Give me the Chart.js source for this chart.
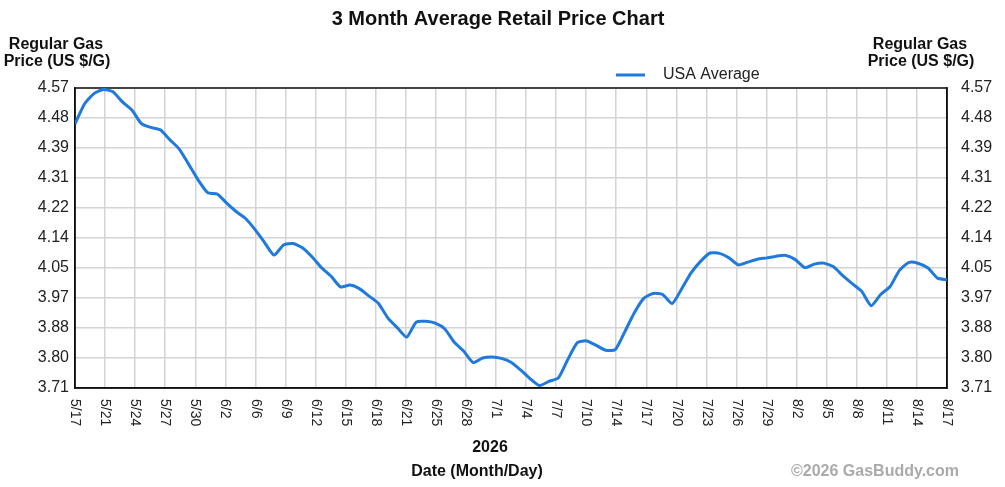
<!DOCTYPE html>
<html lang="en">
<head>
    <meta charset="UTF-8">
    <title>3 Month Average Retail Price Chart</title>
    <script src="https://cdn.jsdelivr.net/npm/chart.js@4.4.1/dist/chart.umd.min.js"></script>
    <style>
        * { margin: 0; padding: 0; box-sizing: border-box; }
        body { background: #ffffff; width: 1005px; height: 487px; overflow: hidden; }
        .chart-container { position: relative; width: 1005px; height: 487px; }
    </style>
</head>
<body>
    <div class="chart-container">
        <canvas id="priceChart"></canvas>
    </div>

    <script>
        // Daily USA average regular gas price, starting 5/17
        const prices = [
            4.467, 4.524, 4.554, 4.566, 4.559, 4.530, 4.507, 4.468, 4.457, 4.450,
            4.422, 4.395, 4.351, 4.306, 4.270, 4.266, 4.240, 4.216, 4.196, 4.164,
            4.127, 4.091, 4.120, 4.124, 4.112, 4.086, 4.055, 4.031, 4.000, 4.005,
            3.995, 3.974, 3.953, 3.911, 3.883, 3.856, 3.899, 3.901, 3.896, 3.880,
            3.842, 3.816, 3.783, 3.796, 3.799, 3.795, 3.784, 3.762, 3.737, 3.717,
            3.729, 3.739, 3.792, 3.840, 3.845, 3.832, 3.818, 3.820, 3.871, 3.925,
            3.967, 3.981, 3.978, 3.952, 3.994, 4.040, 4.073, 4.097, 4.096, 4.083,
            4.063, 4.071, 4.079, 4.083, 4.088, 4.090, 4.078, 4.055, 4.065, 4.068,
            4.058, 4.032, 4.009, 3.987, 3.946, 3.978, 4.001, 4.048, 4.070, 4.067,
            4.054, 4.025, 4.020
        ];

        const xLabels = [
            '5/17', '5/21', '5/24', '5/27', '5/30', '6/2', '6/6', '6/9', '6/12', '6/15',
            '6/18', '6/21', '6/25', '6/28', '7/1', '7/4', '7/7', '7/10', '7/14', '7/17',
            '7/20', '7/23', '7/26', '7/29', '8/2', '8/5', '8/8', '8/11', '8/14', '8/17'
        ];

        const yLabels = ['3.71', '3.80', '3.88', '3.97', '4.05', '4.14', '4.22', '4.31', '4.39', '4.48', '4.57'];

        const seriesName = 'USA Average';
        const lineColor = '#2079dc';
        const fontFamily = "'Liberation Sans', Arial, Helvetica, sans-serif";

        const yMin = 3.71;
        const yMax = 4.57;
        const dayMax = prices.length - 1;

        // Evenly spaced ticks across the range, labelled from the arrays above
        function evenTicks(min, max, count) {
            const out = [];
            for (let i = 0; i < count; i++) {
                out.push({ value: min + (max - min) * i / (count - 1) });
            }
            return out;
        }

        const yScaleBase = {
            type: 'linear',
            min: yMin,
            max: yMax,
            afterBuildTicks: (scale) => { scale.ticks = evenTicks(yMin, yMax, yLabels.length); },
            grid: { color: '#d4d4d4', lineWidth: 1.5, drawTicks: false },
            border: { display: true, color: '#111', width: 1.5 },
            ticks: {
                color: '#222',
                padding: 6,
                font: { family: fontFamily, size: 16 },
                callback: (value, index) => yLabels[index]
            }
        };

        const decorPlugin = {
            id: 'decor',
            beforeDatasetsDraw(chart) {
                const { ctx, chartArea: a } = chart;
                ctx.save();
                ctx.strokeStyle = '#111';
                ctx.lineWidth = 1.5;
                ctx.strokeRect(a.left, a.top, a.right - a.left, a.bottom - a.top);
                ctx.restore();
            },
            afterDraw(chart) {
                const { ctx, chartArea: a } = chart;
                const xScale = chart.scales.x;
                ctx.save();

                // Title
                ctx.fillStyle = '#111';
                ctx.textAlign = 'center';
                ctx.textBaseline = 'middle';
                ctx.font = `bold 20px ${fontFamily}`;
                ctx.fillText('3 Month Average Retail Price Chart', 498, 19);

                // Axis titles
                ctx.font = `bold 16px ${fontFamily}`;
                ctx.fillText('Regular Gas', 56, 45);
                ctx.fillText('Price (US $/G)', 57, 62);
                ctx.fillText('Regular Gas', 920, 45);
                ctx.fillText('Price (US $/G)', 921, 62);

                // Legend
                ctx.strokeStyle = lineColor;
                ctx.lineWidth = 3;
                ctx.beginPath();
                ctx.moveTo(616, 75);
                ctx.lineTo(645, 75);
                ctx.stroke();
                ctx.font = `16px ${fontFamily}`;
                ctx.textAlign = 'left';
                ctx.fillStyle = '#222';
                ctx.fillText(chart.data.datasets[0].label, 663, 75);

                // X tick labels, rotated clockwise
                ctx.font = `14px ${fontFamily}`;
                ctx.fillStyle = '#222';
                xScale.ticks.forEach((t, i) => {
                    const px = xScale.getPixelForValue(t.value);
                    ctx.save();
                    ctx.translate(px, a.bottom + 11);
                    ctx.rotate(Math.PI / 2);
                    ctx.textAlign = 'left';
                    ctx.textBaseline = 'middle';
                    ctx.fillText(xLabels[i], 0, 0);
                    ctx.restore();
                });

                // Year and x axis title
                ctx.textAlign = 'center';
                ctx.fillStyle = '#111';
                ctx.font = `bold 16px ${fontFamily}`;
                ctx.fillText('2026', 490, 448);
                ctx.fillText('Date (Month/Day)', 477, 472);

                // Credit
                ctx.fillStyle = '#aaaaaa';
                ctx.font = `bold 16px ${fontFamily}`;
                ctx.fillText('\u00A92026 GasBuddy.com', 875, 472);

                ctx.restore();
            }
        };

        function createChart() {
            const ctx = document.getElementById('priceChart').getContext('2d');

            new Chart(ctx, {
                type: 'line',
                data: {
                    datasets: [{
                        label: seriesName,
                        data: prices.map((p, i) => ({ x: i, y: p })),
                        borderColor: lineColor,
                        borderWidth: 3,
                        pointRadius: 0,
                        tension: 0.2,
                        fill: false,
                        yAxisID: 'y'
                    }]
                },
                options: {
                    responsive: true,
                    maintainAspectRatio: false,
                    animation: false,
                    layout: { padding: { top: 88, left: 0, right: 0, bottom: 0 } },
                    scales: {
                        x: {
                            type: 'linear',
                            min: 0,
                            max: dayMax,
                            afterBuildTicks: (scale) => { scale.ticks = evenTicks(0, dayMax, xLabels.length); },
                            afterFit: (scale) => { scale.height = 99; },
                            grid: { color: '#d4d4d4', lineWidth: 1.5, drawTicks: false },
                            border: { display: true, color: '#111', width: 1.5 },
                            ticks: { display: false }
                        },
                        y: Object.assign({}, yScaleBase, {
                            position: 'left',
                            afterFit: (scale) => { scale.width = 75; }
                        }),
                        y2: Object.assign({}, yScaleBase, {
                            position: 'right',
                            grid: { display: false },
                            afterFit: (scale) => { scale.width = 58; }
                        })
                    },
                    plugins: {
                        legend: { display: false },
                        title: { display: false },
                        tooltip: { enabled: false }
                    }
                },
                plugins: [decorPlugin]
            });
        }

        document.addEventListener('DOMContentLoaded', createChart);
    </script>
</body>
</html>
